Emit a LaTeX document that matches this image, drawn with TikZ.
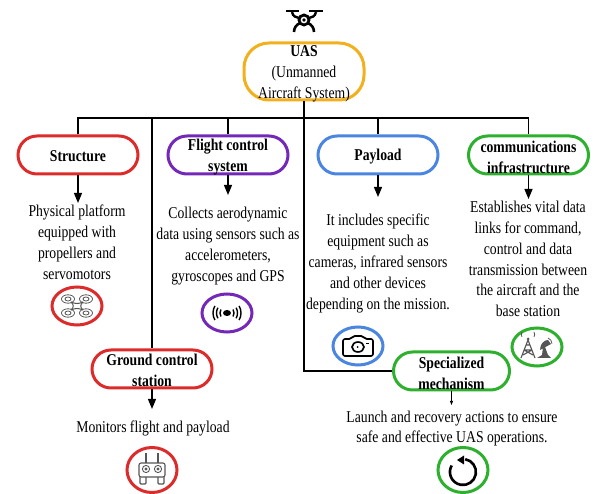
\documentclass[tikz,border=0pt]{standalone}
\usepackage{fontspec}
\setmainfont[FakeStretch=0.83]{Liberation Serif}
\usetikzlibrary{arrows.meta,shapes.geometric}
\definecolor{cred}{HTML}{DC2B2B}
\definecolor{cyel}{HTML}{F2B01E}
\definecolor{cpur}{HTML}{7428B8}
\definecolor{cblu}{HTML}{4A86E0}
\definecolor{cgrn}{HTML}{2DB02D}
\definecolor{cink}{HTML}{555555}
\tikzset{
 x=1pt,y=-1pt,
 box/.style={draw=#1,line width=3pt,rounded corners=19pt,minimum width=120pt,minimum height=38pt,inner sep=0pt},
 bigbox/.style={draw=#1,line width=3pt,rounded corners=25pt,minimum width=120pt,minimum height=57pt,inner sep=0pt},
 ring/.style={draw=#1,line width=3pt,ellipse,minimum width=50pt,minimum height=38pt,inner sep=0pt},
 tall/.style={draw=#1,line width=3pt,ellipse,minimum width=50pt,minimum height=45pt,inner sep=0pt},
 head/.style={font=\fontsize{16.5}{20.9}\selectfont\bfseries,align=center,inner sep=0pt},
 body/.style={font=\fontsize{16.5}{20.9}\selectfont,align=center,inner sep=0pt},
 conn/.style={draw=black,line width=1.4pt},
 arr/.style={draw=black,line width=1.2pt,-{Triangle[length=10pt,width=8pt]}},
 ico/.style={draw=#1,line width=1pt},
}
\begin{document}
\begin{tikzpicture}
\useasboundingbox (0,0) rectangle (595,494);
% boxes
\node[bigbox=cyel] (uas) at (304,71.5) {};
\node[box=cred] (str) at (78,155) {};
\node[box=cpur] (flt) at (228,155) {};
\node[box=cblu] (pay) at (378,155) {};
\node[box=cgrn] (com) at (528.5,155) {};
\node[box=cred] (gcs) at (152,369) {};
\node[box=cgrn,minimum width=116pt] (spc) at (451.5,371) {};
% connector junctions
\coordinate (busT) at (304,118);
\coordinate (busL) at (78,118);
\coordinate (busR) at (528.5,118);
\coordinate (busF) at (228,118);
\coordinate (busP) at (378,118);
\coordinate (busG) at (152,118);
\coordinate (low) at (304,371);
\draw[conn] (uas.south) -- (busT);
\draw[conn] (str.north) -- (busL) -- (busR) -- (com.north);
\draw[conn] (busF) -- (flt.north);
\draw[conn] (busP) -- (pay.north);
\draw[conn] (busG) -- (gcs.north);
\draw[conn] (busT) -- (low) -- (spc.west);
% arrows
\coordinate (a1) at (78,203);
\coordinate (a2) at (228,195);
\coordinate (a3) at (378,197);
\coordinate (a4) at (528.5,199);
\coordinate (a5) at (152,409);
\coordinate (a6) at (451.5,405);
\draw[arr] (str.south) -- (a1);
\draw[arr] (flt.south) -- (a2);
\draw[arr] (pay.south) -- (a3);
\draw[arr] (com.south) -- (a4);
\draw[arr] (gcs.south) -- (a5);
\draw[draw=black,line width=.7pt,-{Triangle[length=4pt,width=3pt]}] (spc.south) -- (a6);
% headings
\node[head] (tuas) at (304,73.5) {UAS\\[0pt]\mdseries (Unmanned\\\mdseries Aircraft System)};
\node[head] (tstr) at (78,156) {Structure};
\node[head] (tflt) at (228,157) {Flight control\\system};
\node[head] (tpay) at (378,157) {Payload};
\node[head] (tcom) at (528.5,157) {communications\\infrastructure};
\node[head] (tgcs) at (152,370) {Ground control\\station};
\node[head] (tspc) at (451.5,373) {Specialized\\mechanism};
% bodies
\node[body] (bstr) at (77,242) {Physical platform\\equipped with\\propellers and\\servomotors};
\node[body] (bflt) at (228,246) {Collects aerodynamic\\data using sensors such as\\accelerometers,\\gyroscopes and GPS};
\node[body] (bpay) at (378,263.5) {It includes specific\\equipment such as\\cameras, infrared sensors\\and other devices\\depending on the mission.};
\node[body] (bcom) at (528,259) {Establishes vital data\\links for command,\\control and data\\transmission between\\the aircraft and the\\base station};
\node[body] (bgcs) at (153,428) {Monitors flight and payload};
\node[body] (bspc) at (452,428.5) {Launch and recovery actions to ensure\\safe and effective UAS operations.};
% icon rings
\node[ring=cred] (rstr) at (77,306) {};
\node[ring=cpur] (rflt) at (227,313) {};
\node[ring=cblu] (rpay) at (358,346) {};
\node[ring=cgrn] (rcom) at (537,347) {};
\node[tall=cred] (rgcs) at (152,470) {};
\node[tall=cgrn] (rspc) at (463,470) {};
% top drone
\begin{scope}[shift={(304,20)}]
\draw[line width=2.6pt] (-18.5,-9) -- (-5,-9) (5,-9) -- (18.5,-9);
\draw[line width=2.4pt] (-12,-8) .. controls (-11,-3) and (-8,-3) .. (-5,-2);
\draw[line width=2.4pt] (12,-8) .. controls (11,-3) and (8,-3) .. (5,-2);
\draw[line width=2.6pt] (-4,3) .. controls (-8,5) and (-10,8) .. (-10,12);
\draw[line width=2.6pt] (4,3) .. controls (8,5) and (10,8) .. (10,12);
\draw[line width=2.8pt,fill=white] (0,0) circle (5);
\fill (0,0) circle (1.8);
\end{scope}
% quadcopter
\begin{scope}[shift={(77,306)}]
\foreach \p/\q in {-9/-7,9/-7,-9/7,9/7}{
 \draw[ico=cink,line width=.8pt] (\p,\q) ellipse (6.5 and 4.2);
 \draw[ico=cink,line width=.8pt] (\p,\q) ellipse (3 and 2);}
\draw[ico=cink] (-6,-4) .. controls (-3,-1) and (-3,1) .. (-6,4);
\draw[ico=cink] (6,-4) .. controls (3,-1) and (3,1) .. (6,4);
\draw[ico=cink] (-6,-4) .. controls (-2,-2) and (2,-2) .. (6,-4);
\draw[ico=cink] (-6,4) .. controls (-2,2) and (2,2) .. (6,4);
\end{scope}
% signal
\begin{scope}[shift={(227,313)}]
\fill (0,0) ellipse (4 and 3);
\foreach \r in {7,10.5,14}{
 \draw[line width=1.4pt] (30:\r) arc (30:-30:\r);
 \draw[line width=1.4pt] (150:\r) arc (150:210:\r);}
\end{scope}
% camera
\begin{scope}[shift={(358,347)}]
\draw[line width=1.6pt,rounded corners=2pt] (-15,-8) -- (-7,-8) -- (-5,-11) -- (5,-11) -- (7,-8) -- (15,-8) -- (15,9) -- (-15,9) -- cycle;
\draw[line width=1.6pt] (0,0) ellipse (6 and 5);
\fill (-0.5,0) circle (1);
\fill (8,-4) rectangle (11,-3);
\end{scope}
% comm icon
\begin{scope}[shift={(537,347)}]
\draw[ico=cink,line width=1.1pt] (-9,-7) -- (-16,11) (-9,-7) -- (-2,11) (-13,3) -- (-5,3) (-11,-2) -- (-7,-2) (-13,3) -- (-4,8) (-5,3) -- (-14,8);
\fill[cink] (-9,-8) circle (1.5);
\draw[ico=cink,line width=.8pt] (-15,-10) arc (150:210:5) (-3,-10) arc (30:-30:5);
\fill[cink] (3,3) -- (14,-3) -- (11,-7) .. controls (7,-7) and (3,-3) .. cycle;
\fill[cink] (6,0) -- (8,0) -- (11,8) -- (14,11) -- (0,11) -- (5,8) -- cycle;
\draw[ico=cink,line width=.8pt] (11,-9) arc (-70:0:6);
\end{scope}
% remote
\begin{scope}[shift={(152,470)}]
\draw[ico=cink,line width=1.1pt,rounded corners=2pt] (-13,-7) rectangle (13,7);
\draw[ico=cink,line width=1.1pt] (-6,-7) -- (-6,-17) (6,-7) -- (6,-17);
\draw[ico=cink,line width=1.1pt,rounded corners=1pt] (-12,7) -- (-12,14) -- (-6,14) -- (-6,7) (6,7) -- (6,14) -- (12,14) -- (12,7);
\foreach \p in {-6,6}{
 \draw[ico=cink,line width=.9pt] (\p,-1) circle (3.6);
 \fill[cink] (\p,-1) circle (1.7);}
\end{scope}
% rotate
\begin{scope}[shift={(463,472)}]
\draw[line width=2.6pt] (2.2,-12.8) arc (-80:210:13);
\fill (-6,-12) -- (1,-16.5) -- (1,-7.5) -- cycle;
\end{scope}
\end{tikzpicture}
\end{document}
